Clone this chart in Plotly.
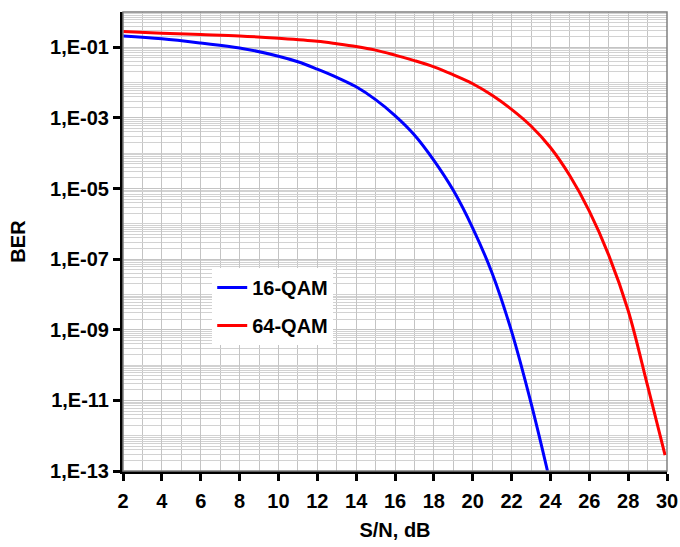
import plotly.graph_objects as go

# S/N (dB) and BER values
snr_16 = [2, 4, 6, 8, 10, 11, 12, 13, 14, 15, 16, 17, 18, 19, 20, 21, 22, 23, 23.85]
ber_16 = [2.1e-1, 1.74e-1, 1.32e-1, 9.6e-2, 5.6e-2, 3.9e-2, 2.4e-2, 1.41e-2, 7.6e-3,
          3.3e-3, 1.17e-3, 3.3e-4, 6.3e-5, 8.9e-6, 7.6e-7, 4.0e-8, 9.0e-10, 8.5e-12, 1.0e-13]

snr_64 = [2, 4, 6, 8, 10, 12, 13, 14, 15, 16, 17, 18, 19, 20, 21, 22, 23, 24, 25,
          26, 27, 28, 29, 29.9]
ber_64 = [2.8e-1, 2.5e-1, 2.3e-1, 2.1e-1, 1.8e-1, 1.48e-1, 1.26e-1, 1.05e-1, 8.3e-2,
          6.0e-2, 4.2e-2, 2.8e-2, 1.66e-2, 9.3e-3, 4.4e-3, 1.75e-3, 5.9e-4, 1.45e-4,
          2.3e-5, 2.3e-6, 1.3e-7, 3.5e-9, 2.6e-11, 2.8e-13]

series_names = ["16-QAM", "64-QAM"]

y_label_exps = [-1, -3, -5, -7, -9, -11, -13]
y_tickvals = [10.0 ** e for e in y_label_exps]
y_ticktext = ["1,E-%02d" % (-e) for e in y_label_exps]
y_minor = [m * 10.0 ** e for e in range(-13, 0) for m in range(1, 10)]
x_tickvals = list(range(2, 31, 2))

font_family = "Liberation Sans, Arial, sans-serif"

fig = go.Figure()
fig.add_trace(go.Scatter(x=snr_16, y=ber_16, mode="lines", name=series_names[0],
                         legendgroup="a",
                         line=dict(color="#0000ff", width=3, shape="spline", smoothing=1.0)))
fig.add_trace(go.Scatter(x=snr_64, y=ber_64, mode="lines", name=series_names[1],
                         legendgroup="b",
                         line=dict(color="#ff0000", width=3, shape="spline", smoothing=1.0)))

fig.update_layout(
    width=680, height=547,
    margin=dict(l=123, r=13, t=12, b=76, autoexpand=False),
    plot_bgcolor="white", paper_bgcolor="white",
    font=dict(family=font_family, size=20, color="black"),
    legend=dict(x=0.164, y=0.442, xanchor="left", yanchor="top",
                bgcolor="white", borderwidth=0,
                font=dict(family=font_family, size=20, color="black", weight="bold"),
                tracegroupgap=9, itemwidth=30),
    shapes=[dict(type="rect", xref="paper", yref="paper", x0=0, x1=1, y0=0, y1=1,
                 line=dict(color="#808080", width=1.5), layer="above")],
)

fig.update_xaxes(
    range=[2, 30], tickmode="array", tickvals=x_tickvals,
    ticks="outside", ticklen=7, tickwidth=2.5, tickcolor="black",
    showline=True, linecolor="black", linewidth=3,
    showgrid=True, gridcolor="#c4c4c4", gridwidth=1,
    minor=dict(dtick=1, showgrid=True, gridcolor="#c4c4c4", gridwidth=1, ticks=""),
    tickfont=dict(family=font_family, size=20, weight="bold"),
    ticklabelstandoff=3,
    title=dict(text="<b>S/N, dB</b>", font=dict(family=font_family, size=20), standoff=12),
    automargin=False, zeroline=False,
)
fig.update_yaxes(
    type="log", range=[-13, 0], tickmode="array", tickvals=y_tickvals, ticktext=y_ticktext,
    ticks="outside", ticklen=7, tickwidth=2.5, tickcolor="black",
    showline=True, linecolor="black", linewidth=3,
    showgrid=True, gridcolor="#c4c4c4", gridwidth=1,
    minor=dict(tickmode="array", tickvals=y_minor, showgrid=True,
               gridcolor="#d2d2d2", gridwidth=1, ticks=""),
    tickfont=dict(family=font_family, size=20, weight="bold"),
    title=dict(text="<b>BER</b>", font=dict(family=font_family, size=20), standoff=20),
    automargin=False, zeroline=False,
)

fig.write_html("out.html")
